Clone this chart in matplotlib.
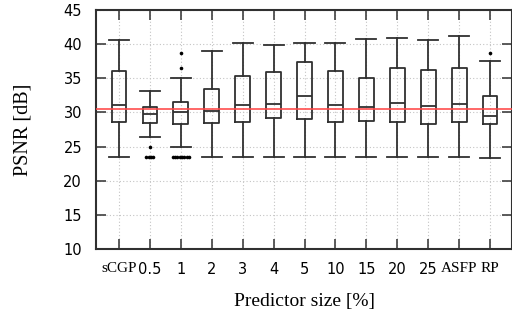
import matplotlib
matplotlib.use("Agg")
import matplotlib.pyplot as plt
import numpy as np

categories = ["sCGP", "0.5", "1", "2", "3", "4", "5", "10", "15", "20", "25", "ASFP", "RP"]
whisker_low = [23.5, 26.45, 24.9, 23.5, 23.5, 23.5, 23.5, 23.5, 23.5, 23.5, 23.5, 23.5, 23.35]
q1 = [28.55, 28.4, 28.3, 28.4, 28.65, 29.15, 29.0, 28.65, 28.75, 28.55, 28.26, 28.65, 28.3]
median = [31.05, 29.73, 30.1, 30.25, 31.05, 31.3, 32.35, 31.05, 30.75, 31.4, 30.95, 31.2, 29.55]
q3 = [36.07, 30.75, 31.5, 33.4, 35.3, 35.9, 37.35, 36.0, 35.1, 36.5, 36.27, 36.46, 32.35]
whisker_high = [40.6, 33.2, 35.1, 39.05, 40.1, 39.9, 40.2, 40.2, 40.75, 40.95, 40.65, 41.25, 37.5]
outliers = [
    [],
    [24.9, 23.5, 23.5, 23.5, 23.5],
    [38.75, 36.45, 23.5, 23.5, 23.5, 23.5, 23.5, 23.5, 23.5, 23.5],
    [], [], [], [], [], [], [], [], [],
    [38.65],
]
reference_psnr = 30.55
yticks = [10, 15, 20, 25, 30, 35, 40, 45]

fig = plt.figure(figsize=(5.12, 3.22), dpi=100)
ax = fig.add_axes([96/512, 1 - 249/322, 416/512, 239/322])

positions = np.arange(1, len(categories) + 1)
stats = []
for i in range(len(categories)):
    stats.append(dict(whislo=whisker_low[i], q1=q1[i], med=median[i], q3=q3[i],
                      whishi=whisker_high[i], fliers=[]))

edge = "#303030"
ax.bxp(stats, positions=positions, widths=0.48, showfliers=False,
       boxprops=dict(color=edge, linewidth=1.3),
       medianprops=dict(color=edge, linewidth=1.3),
       whiskerprops=dict(color=edge, linewidth=1.3),
       capprops=dict(color=edge, linewidth=1.3),
       capwidths=0.65, manage_ticks=False, zorder=3)

# outliers, identical values spread horizontally
for pos, vals in zip(positions, outliers):
    vals = np.array(vals)
    for v in np.unique(vals):
        n = int(np.sum(vals == v))
        offs = (np.arange(n) - (n - 1) / 2) * 0.075
        ax.plot(pos + offs, [v] * n, "o", color="black", markersize=2.6,
                markeredgewidth=0, zorder=4)

ax.axhline(reference_psnr, color="#ff4a4a", linewidth=1.3, alpha=0.9, zorder=5)

ax.set_xlim(0.256, 13.71)
ax.set_ylim(10, 45)
ax.set_yticks(yticks)
ax.set_xticks(positions)
ax.set_xticklabels(categories)
for lab in ax.get_xticklabels():
    if lab.get_text() in ("sCGP", "ASFP", "RP"):
        lab.set_family("Liberation Serif")
        lab.set_fontsize(11)
    else:
        lab.set_family("DejaVu Sans")
        lab.set_fontsize(10.5)
for lab in ax.get_yticklabels():
    lab.set_fontsize(10.5)

ax.grid(True, color="#c4c4c4", linestyle=(0, (1, 2)), linewidth=0.8, zorder=0)
ax.tick_params(direction="in", length=7, width=1.2, color="#404040",
               top=True, right=True)
ax.tick_params(axis="y", pad=10)
ax.tick_params(axis="x", pad=9)
for s in ax.spines.values():
    s.set_color("#303030")
    s.set_linewidth(1.5)

ax.set_xlabel("Predictor size [%]", family="Liberation Serif", fontsize=14, labelpad=12)
ax.set_ylabel("PSNR [dB]", family="Liberation Serif", fontsize=14.5, labelpad=22)

fig.savefig("out.png", dpi=100)
